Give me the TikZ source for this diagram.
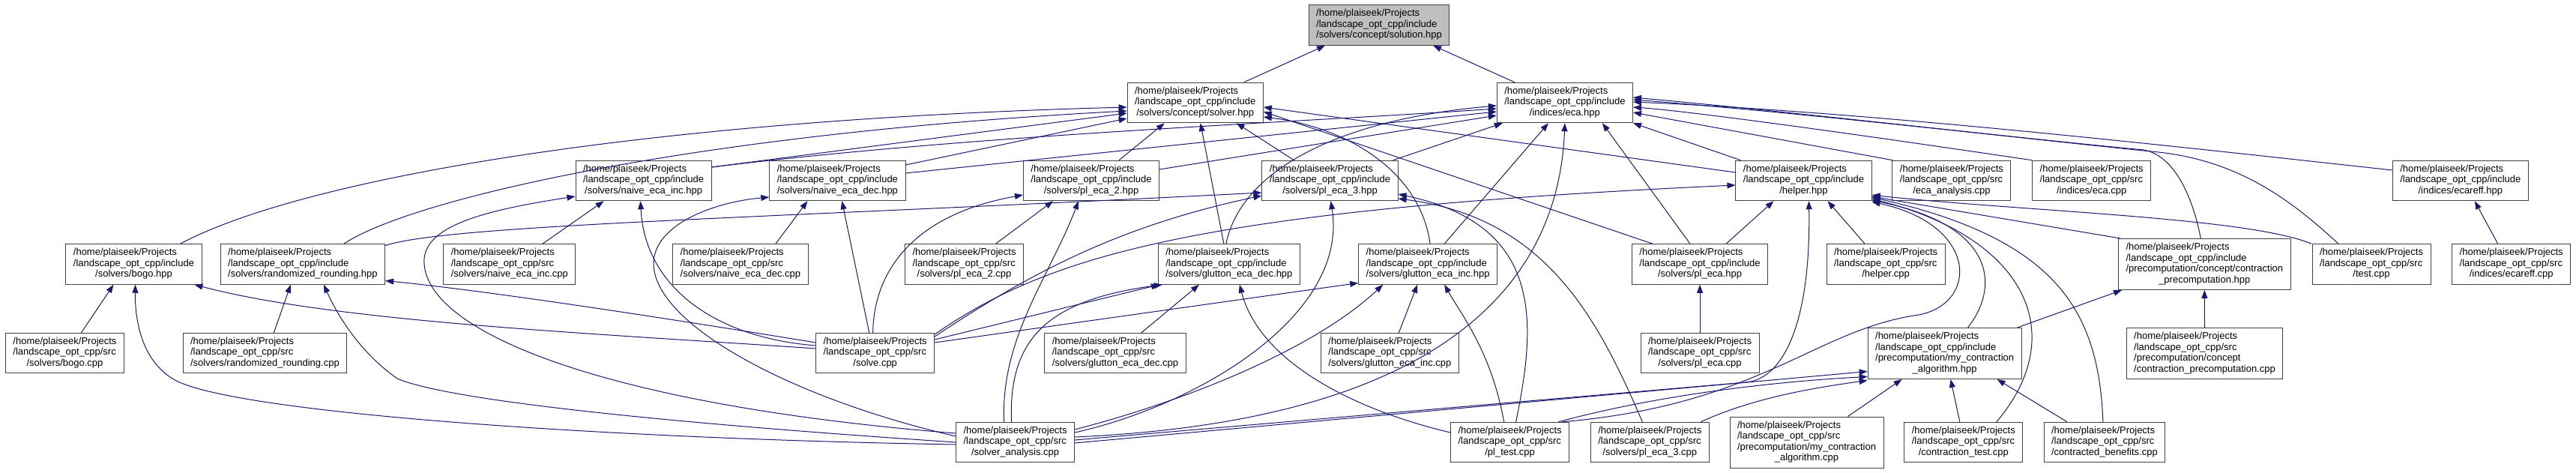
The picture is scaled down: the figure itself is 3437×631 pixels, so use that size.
\documentclass[tikz,border=0pt]{standalone}
\usepackage{fontspec}
\setmainfont{Liberation Sans}
\usetikzlibrary{arrows.meta}

\definecolor{edgeblue}{HTML}{191970}

% first lines flush left, last line centred (doxygen box labels)
\newcommand{\flines}[2]{\begin{tabular}{@{}l@{}}#1\\\multicolumn{1}{@{}c@{}}{#2}\end{tabular}}
\newcommand{\incpath}{/home/plaiseek/Projects\\/landscape\_opt\_cpp/include}
\newcommand{\srcpath}{/home/plaiseek/Projects\\/landscape\_opt\_cpp/src}

\begin{document}
\begin{tikzpicture}[
    x=1pt, y=-1pt,
    % --- File Box Style ---
    file/.style={
        draw=black!75,
        fill=white,
        line width=1pt,
        inner xsep=10pt,
        inner ysep=5pt,
        font=\fontsize{13}{14.5}\selectfont
    },
    % --- Highlighted File ---
    focus file/.style={
        file,
        fill=black!25
    },
    % --- Include Arrows ---
    dep arrow/.style={
        -{Triangle[length=11pt, width=8pt]},
        draw=edgeblue,
        line width=1pt
    }
]

    \fill[white] (0,0) rectangle (3437,631);
    \useasboundingbox (0,0) rectangle (3437,631);

    % =========================================
    % 1. FILE NODES
    % =========================================

    % Row 0 - the documented header
    \node[focus file] (solH) at (1840,33.5) {\flines{\incpath}{/solvers/concept/solution.hpp}};

    % Row 1
    \node[file] (solverH) at (1594.7,137) {\flines{\incpath}{/solvers/concept/solver.hpp}};
    \node[file] (ecaH) at (2087.9,137) {\flines{\incpath}{/indices/eca.hpp}};

    % Row 2
    \node[file] (nincH) at (858.6,241) {\flines{\incpath}{/solvers/naive\_eca\_inc.hpp}};
    \node[file] (ndecH) at (1117.4,241) {\flines{\incpath}{/solvers/naive\_eca\_dec.hpp}};
    \node[file] (pl2H) at (1456,241) {\flines{\incpath}{/solvers/pl\_eca\_2.hpp}};
    \node[file] (pl3H) at (1774.5,241) {\flines{\incpath}{/solvers/pl\_eca\_3.hpp}};
    \node[file] (helperH) at (2406.5,241) {\flines{\incpath}{/helper.hpp}};
    \node[file] (ecaAn) at (2603.9,241) {\flines{\srcpath}{/eca\_analysis.cpp}};
    \node[file] (ecaCpp) at (2790.7,241) {\flines{\srcpath}{/indices/eca.cpp}};
    \node[file] (ecareffH) at (3282.8,241) {\flines{\incpath}{/indices/ecareff.hpp}};

    % Row 3
    \node[file] (bogoH) at (178.5,352.5) {\flines{\incpath}{/solvers/bogo.hpp}};
    \node[file] (rrH) at (403.9,352.5) {\flines{\incpath}{/solvers/randomized\_rounding.hpp}};
    \node[file] (nincC) at (679.9,352.5) {\flines{\srcpath}{/solvers/naive\_eca\_inc.cpp}};
    \node[file] (ndecC) at (987.9,352.5) {\flines{\srcpath}{/solvers/naive\_eca\_dec.cpp}};
    \node[file] (pl2C) at (1286.5,352.5) {\flines{\srcpath}{/solvers/pl\_eca\_2.cpp}};
    \node[file] (gdecH) at (1639.9,352.5) {\flines{\incpath}{/solvers/glutton\_eca\_dec.hpp}};
    \node[file] (gincH) at (1905.1,352.5) {\flines{\incpath}{/solvers/glutton\_eca\_inc.hpp}};
    \node[file] (plH) at (2268,352.5) {\flines{\incpath}{/solvers/pl\_eca.hpp}};
    \node[file] (helperC) at (2516.1,352.5) {\flines{\srcpath}{/helper.cpp}};
    \node[file] (cpH) at (2941.3,352.5) {\flines{\incpath\\/precomputation/concept/contraction}{\_precomputation.hpp}};
    \node[file] (testC) at (3164,352.5) {\flines{\srcpath}{/test.cpp}};
    \node[file] (ecareffC) at (3350.7,352.5) {\flines{\srcpath}{/indices/ecareff.cpp}};

    % Row 4
    \node[file] (bogoC) at (86.5,471) {\flines{\srcpath}{/solvers/bogo.cpp}};
    \node[file] (rrC) at (353.4,471) {\flines{\srcpath}{/solvers/randomized\_rounding.cpp}};
    \node[file] (solveC) at (1167.7,471) {\flines{\srcpath}{/solve.cpp}};
    \node[file] (gdecC) at (1488,471) {\flines{\srcpath}{/solvers/glutton\_eca\_dec.cpp}};
    \node[file] (gincC) at (1854.4,471) {\flines{\srcpath}{/solvers/glutton\_eca\_inc.cpp}};
    \node[file] (plC) at (2268,471) {\flines{\srcpath}{/solvers/pl\_eca.cpp}};
    \node[file] (mcaH) at (2594.6,471.5) {\flines{\incpath\\/precomputation/my\_contraction}{\_algorithm.hpp}};
    \node[file] (cpC) at (2941.5,471.5) {\flines{\srcpath\\/precomputation/concept}{/contraction\_precomputation.cpp}};

    % Row 5
    \node[file] (saC) at (1354.6,590) {\flines{\srcpath}{/solver\_analysis.cpp}};
    \node[file] (pltestC) at (2014.6,590) {\flines{\srcpath}{/pl\_test.cpp}};
    \node[file] (pl3C) at (2201.3,590) {\flines{\srcpath}{/solvers/pl\_eca\_3.cpp}};
    \node[file] (mcaC) at (2410.5,590) {\flines{\srcpath\\/precomputation/my\_contraction}{\_algorithm.cpp}};
    \node[file] (ctestC) at (2619.8,590) {\flines{\srcpath}{/contraction\_test.cpp}};
    \node[file] (cbenC) at (2807.9,590) {\flines{\srcpath}{/contracted\_benefits.cpp}};

    % =========================================
    % 2. INCLUDE EDGES (includer -> included)
    % =========================================

    % into solution.hpp
    \draw[dep arrow] ([xshift=65]solverH.north) -- ([xshift=-72]solH.south);
    \draw[dep arrow] ([xshift=-67]ecaH.north) -- ([xshift=72]solH.south);

    % into solver.hpp
    \draw[dep arrow] ([xshift=62]bogoH.north) .. controls (400,240) and (850,160) .. ([yshift=-6]solverH.west);
    \draw[dep arrow] ([xshift=55]rrH.north) .. controls (540,270) and (900,180) .. ([yshift=-11]solverH.west);
    \draw[dep arrow] ([yshift=18]nincH.east) -- ([yshift=-14]solverH.west);
    \draw[dep arrow] ([yshift=21]ndecH.east) -- ([yshift=-21]solverH.west);
    \draw[dep arrow] ([xshift=37]pl2H.north) -- ([xshift=-41]solverH.south);
    \draw[dep arrow] ([xshift=-48]pl3H.north) -- ([xshift=55]solverH.south);
    \draw[dep arrow] ([xshift=-7]gdecH.north) -- ([xshift=7]solverH.south);
    \draw[dep arrow] ([xshift=3]gincH.north) .. controls (1895,230) and (1800,170) .. ([yshift=-19]solverH.east);
    \draw[dep arrow] ([xshift=-63]plH.north) -- ([yshift=-12]solverH.east);
    \draw[dep arrow] ([yshift=11]helperH.west) -- ([yshift=-6]solverH.east);

    % into eca.hpp
    \draw[dep arrow] ([yshift=18]nincH.east) .. controls (1300,180) and (1700,165) .. ([yshift=-8]ecaH.west);
    \draw[dep arrow] ([yshift=10]ndecH.east) -- ([yshift=-12]ecaH.west);
    \draw[dep arrow] ([yshift=15]pl2H.east) -- ([yshift=-17]ecaH.west);
    \draw[dep arrow] ([xshift=-7]pl3H.north east) -- ([xshift=8]ecaH.south west);
    \draw[dep arrow] ([xshift=-4]gdecH.north) .. controls (1655,230) and (1780,160) .. ([yshift=-4]ecaH.west);
    \draw[dep arrow] ([xshift=22]gincH.north) -- ([xshift=-22]ecaH.south);
    \draw[dep arrow] ([xshift=-13]plH.north) -- ([xshift=50]ecaH.south);
    \draw[dep arrow] ([xshift=7]helperH.north west) -- (ecaH.south east);
    \draw[dep arrow] ([xshift=1]ecaAn.north west) -- ([yshift=-13]ecaH.east);
    \draw[dep arrow] (ecaCpp.north west) .. controls (2450,175) and (2250,148) .. ([yshift=-6]ecaH.east);
    \draw[dep arrow] ([yshift=14]ecareffH.west) .. controls (2900,195) and (2500,150) .. ([yshift=1]ecaH.east);
    \draw[dep arrow] ([xshift=-5]cpH.north) .. controls (2925,260) and (2900,207) .. (2860,200) .. controls (2700,185) and (2400,150) .. ([yshift=4]ecaH.east);
    \draw[dep arrow] ([xshift=-44]testC.north) .. controls (3060,270) and (2990,215) .. (2880,203) .. controls (2700,185) and (2400,150) .. ([yshift=7]ecaH.east);
    \draw[dep arrow] ([yshift=7]saC.east) .. controls (1950,560) and (2080,360) .. (ecaH.south);

    % solve.cpp
    \draw[dep arrow] ([yshift=6]solveC.west) .. controls (800,445) and (450,430) .. ([xshift=81]bogoH.south);
    \draw[dep arrow] ([yshift=14]solveC.west) .. controls (800,410) and (620,385) .. ([yshift=-22]rrH.east);
    \draw[dep arrow] ([yshift=10]solveC.west) .. controls (950,450) and (860,380) .. ([xshift=-4]nincH.south);
    \draw[dep arrow] ([xshift=-8]solveC.north) -- ([xshift=6]ndecH.south);
    \draw[dep arrow] ([xshift=-3]solveC.north) .. controls (1165,380) and (1200,290) .. ([yshift=-19]pl2H.west);
    \draw[dep arrow] ([yshift=22]solveC.east) .. controls (1380,360) and (1500,300) .. ([yshift=-20]pl3H.west);
    \draw[dep arrow] ([yshift=18]solveC.east) -- ([xshift=2]gdecH.south west);
    \draw[dep arrow] ([yshift=14]solveC.east) -- ([yshift=-25]gincH.west);
    \draw[dep arrow] ([yshift=25]solveC.east) .. controls (1400,340) and (1600,280) .. ([yshift=-6]helperH.west);

    % solver_analysis.cpp
    \draw[dep arrow] ([yshift=-3]saC.west) .. controls (800,585) and (300,550) .. (230,505) .. controls (190,480) and (180,430) .. ([xshift=2]bogoH.south);
    \draw[dep arrow] (saC.west) .. controls (900,565) and (600,535) .. (530,505) .. controls (480,470) and (450,420) .. ([xshift=28]rrH.south);
    \draw[dep arrow] ([yshift=12]saC.west) .. controls (800,540) and (560,440) .. (566,345) .. controls (570,300) and (650,280) .. ([yshift=-21]nincH.west);
    \draw[dep arrow] ([yshift=8]saC.west) .. controls (1050,530) and (870,430) .. (872,350) .. controls (874,300) and (950,270) .. ([yshift=-22]ndecH.west);
    \draw[dep arrow] ([xshift=-15]saC.north) .. controls (1335,450) and (1400,370) .. ([xshift=-17]pl2H.south);
    \draw[dep arrow] ([yshift=13]saC.east) .. controls (1600,540) and (1800,420) .. ([xshift=1]pl3H.south);
    \draw[dep arrow] ([xshift=-5]saC.north) .. controls (1345,450) and (1400,400) .. ([xshift=6]gdecH.south west);
    \draw[dep arrow] ([yshift=17]saC.east) .. controls (1600,530) and (1760,460) .. ([xshift=-60]gincH.south);
    \draw[dep arrow] ([yshift=3]saC.east) -- (2330,510) .. controls (2380,505) and (2416,430) .. ([xshift=7]helperH.south);
    \draw[dep arrow] ([yshift=-1]saC.east) -- ([yshift=-24]mcaH.west);

    % randomized_rounding.hpp -> pl_eca_3.hpp
    \draw[dep arrow] ([yshift=25]rrH.east) .. controls (600,300) and (1000,292) .. ([yshift=-16]pl3H.west);

    % pl_test.cpp and pl_eca_3.cpp
    \draw[dep arrow] ([xshift=8]pltestC.north) .. controls (2050,430) and (2060,300) .. ([yshift=-18]pl3H.east);
    \draw[dep arrow] ([xshift=-10]pl3C.north) .. controls (2130,420) and (2060,290) .. ([yshift=-24]pl3H.east);
    \draw[dep arrow] ([xshift=-8]pltestC.north) .. controls (1990,470) and (1950,420) .. ([xshift=22]gincH.south);
    \draw[dep arrow] ([yshift=13]pltestC.west) .. controls (1800,545) and (1680,480) .. ([xshift=14]gdecH.south);
    \draw[dep arrow] ([xshift=65]pltestC.north) .. controls (2200,530) and (2350,510) .. ([yshift=-31]mcaH.west);
    \draw[dep arrow] ([xshift=68]pl3C.north) .. controls (2330,535) and (2400,520) .. ([yshift=-36]mcaH.west);
    \draw[dep arrow] ([xshift=70]pltestC.north) .. controls (2350,540) and (2420,440) .. (2560,420) .. controls (2640,405) and (2640,300) .. ([yshift=-1]helperH.south east);

    % into helper.hpp
    \draw[dep arrow] ([xshift=35]plH.north) -- ([xshift=-40]helperH.south);
    \draw[dep arrow] ([xshift=-28]helperC.north) -- ([xshift=32]helperH.south);
    \draw[dep arrow] ([xshift=31]mcaH.north) .. controls (2670,380) and (2660,300) .. ([yshift=1]helperH.south east);
    \draw[dep arrow] ([xshift=44]ctestC.north) .. controls (2760,450) and (2710,320) .. ([yshift=3]helperH.south east);
    \draw[dep arrow] ([xshift=-2]cbenC.north) .. controls (2800,420) and (2750,320) .. ([yshift=5]helperH.south east);
    \draw[dep arrow] ([xshift=3]cpH.north west) -- ([yshift=6]helperH.south east);
    \draw[dep arrow] ([xshift=-80]testC.north) .. controls (3000,290) and (2700,282) .. ([yshift=8]helperH.south east);

    % precomputation
    \draw[dep arrow] ([xshift=-6]mcaH.north east) -- ([xshift=5]cpH.south west);
    \draw[dep arrow] (cpC.north) -- (cpH.south);
    \draw[dep arrow] ([xshift=55]mcaC.north) -- ([xshift=-57]mcaH.south);
    \draw[dep arrow] ([xshift=-5]ctestC.north) -- ([xshift=8]mcaH.south);
    \draw[dep arrow] ([xshift=-50]cbenC.north) -- ([xshift=70]mcaH.south);

    % sources of single headers
    \draw[dep arrow] ([xshift=35]gdecC.north) -- ([xshift=-40]gdecH.south);
    \draw[dep arrow] ([xshift=12]gincC.north) -- ([xshift=-14]gincH.south);
    \draw[dep arrow] ([xshift=44]nincC.north) -- ([xshift=-53]nincH.south);
    \draw[dep arrow] ([xshift=47]ndecC.north) -- ([xshift=-40]ndecH.south);
    \draw[dep arrow] ([xshift=42]pl2C.north) -- ([xshift=-51]pl2H.south);
    \draw[dep arrow] ([xshift=22]bogoC.north) -- ([xshift=-27]bogoH.south);
    \draw[dep arrow] ([xshift=12]rrC.north) -- ([xshift=-16]rrH.south);
    \draw[dep arrow] ([xshift=-18]ecareffC.north) -- ([xshift=19]ecareffH.south);
    \draw[dep arrow] (plC.north) -- (plH.south);

\end{tikzpicture}
\end{document}
